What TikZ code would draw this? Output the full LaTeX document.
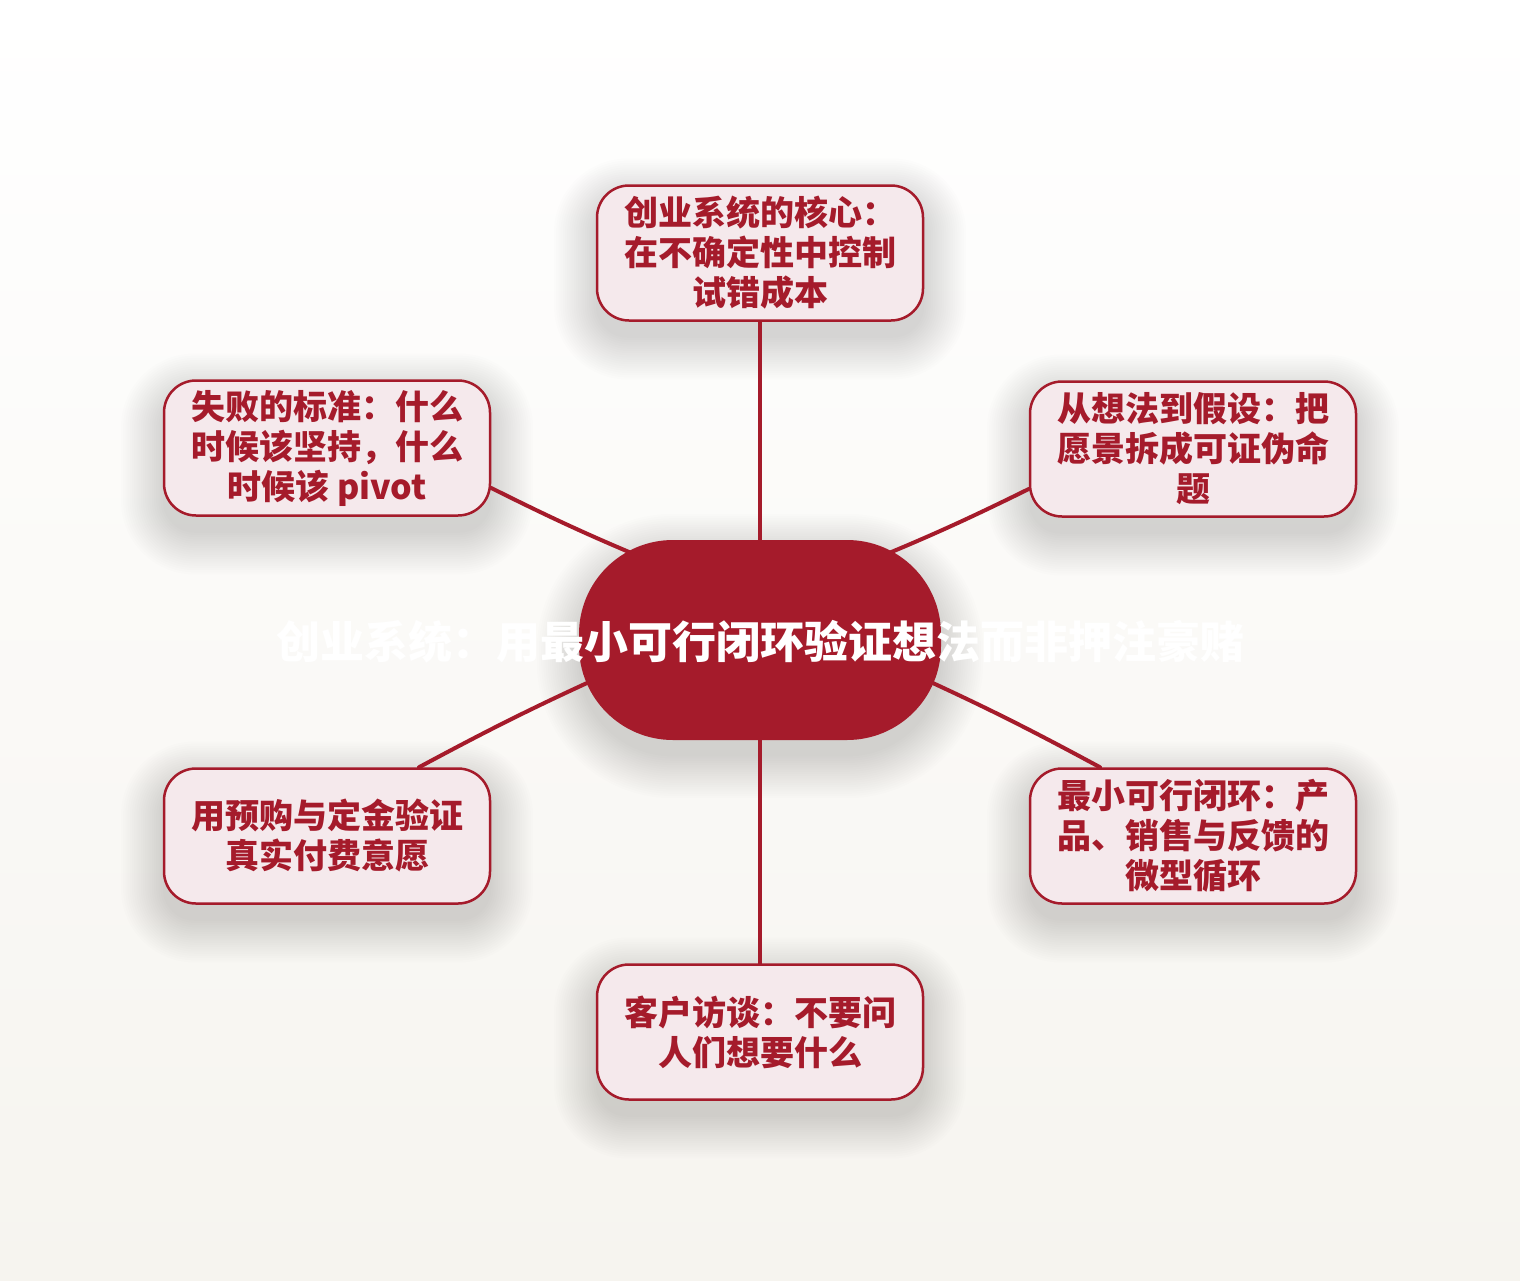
\documentclass[tikz,border=0pt]{standalone}
\usepackage{fontspec}
\setmainfont{Noto Sans CJK SC}
\definecolor{dred}{RGB}{165,27,43}
\definecolor{pinkfill}{RGB}{245,233,236}
\definecolor{bgbottom}{RGB}{246,244,239}
\pgfdeclarelayer{bglayer}
\pgfdeclarelayer{shadowlayer}
\pgfdeclarelayer{edgelayer}
\pgfsetlayers{bglayer,shadowlayer,edgelayer,main}
\tikzset{
  x=0.5pt, y=-0.5pt,
  topic/.style={draw=dred, line width=1.25pt, fill=pinkfill, rounded corners=16pt,
    minimum width=163pt, minimum height=67.5pt, inner sep=0pt, align=center,
    text=dred, font=\bfseries\fontsize{17pt}{20pt}\selectfont},
  hub/.style={fill=dred, rounded corners=47pt, minimum width=181pt, minimum height=100pt,
    inner sep=0pt},
  hubtext/.style={text=white, font=\bfseries\fontsize{22pt}{26pt}\selectfont, inner sep=0pt},
  link/.style={draw=dred, line width=2pt, line cap=round},
  shadowpiece/.style={fill=black, opacity=0.009}
}
\newcommand\softshade[2]{%
  \begin{pgfonlayer}{shadowlayer}
  \foreach \i in {0,...,19} {
    \fill[shadowpiece, rounded corners={#2+\i*1.1pt}]
      ([xshift={-\i*1.1pt}, yshift={-8pt+\i*1.1pt}]#1.north west)
      rectangle ([xshift={\i*1.1pt}, yshift={-8pt-\i*1.1pt}]#1.south east);
  }
  \end{pgfonlayer}}
\begin{document}
\begin{tikzpicture}
\begin{pgfonlayer}{bglayer}
\shade[top color=white, bottom color=bgbottom] (0,0) rectangle (1520,1280);
\end{pgfonlayer}
\useasboundingbox (0,0) rectangle (1520,1280);

\node[hub] (c) at (760,640) {};
\node[hubtext] (t) at (760,642) {创业系统：用最小可行闭环验证想法而非押注豪赌};

\node[topic] (top) at (760,253) {创业系统的核心：\\在不确定性中控制\\试错成本};
\node[topic] (ul) at (327,448) {失败的标准：什么\\时候该坚持，什么\\时候该 pivot};
\node[topic] (ur) at (1193,449) {从想法到假设：把\\愿景拆成可证伪命\\题};
\node[topic] (ll) at (327,836) {用预购与定金验证\\真实付费意愿};
\node[topic] (lr) at (1193,836) {最小可行闭环：产\\品、销售与反馈的\\微型循环};
\node[topic] (bt) at (760,1032) {客户访谈：不要问\\人们想要什么};

\softshade{c}{47pt}
\softshade{top}{16pt}
\softshade{ul}{16pt}
\softshade{ur}{16pt}
\softshade{ll}{16pt}
\softshade{lr}{16pt}
\softshade{bt}{16pt}

\begin{pgfonlayer}{edgelayer}
\draw[link] (c.center) -- (top.center);
\draw[link] ([xshift=-50pt, yshift=37.5pt]c.center) to[bend left=2] ([yshift=-20pt]ul.east);
\draw[link] ([xshift=50pt, yshift=37.5pt]c.center) to[bend right=2] ([yshift=-20pt]ur.west);
\draw[link] ([xshift=-70pt, yshift=-14pt]c.center) to[bend right=2] ([xshift=46pt]ll.north);
\draw[link] ([xshift=70pt, yshift=-14pt]c.center) to[bend left=2] ([xshift=-46.5pt]lr.north);
\draw[link] (c.center) -- (bt.center);
\end{pgfonlayer}
\end{tikzpicture}
\end{document}
